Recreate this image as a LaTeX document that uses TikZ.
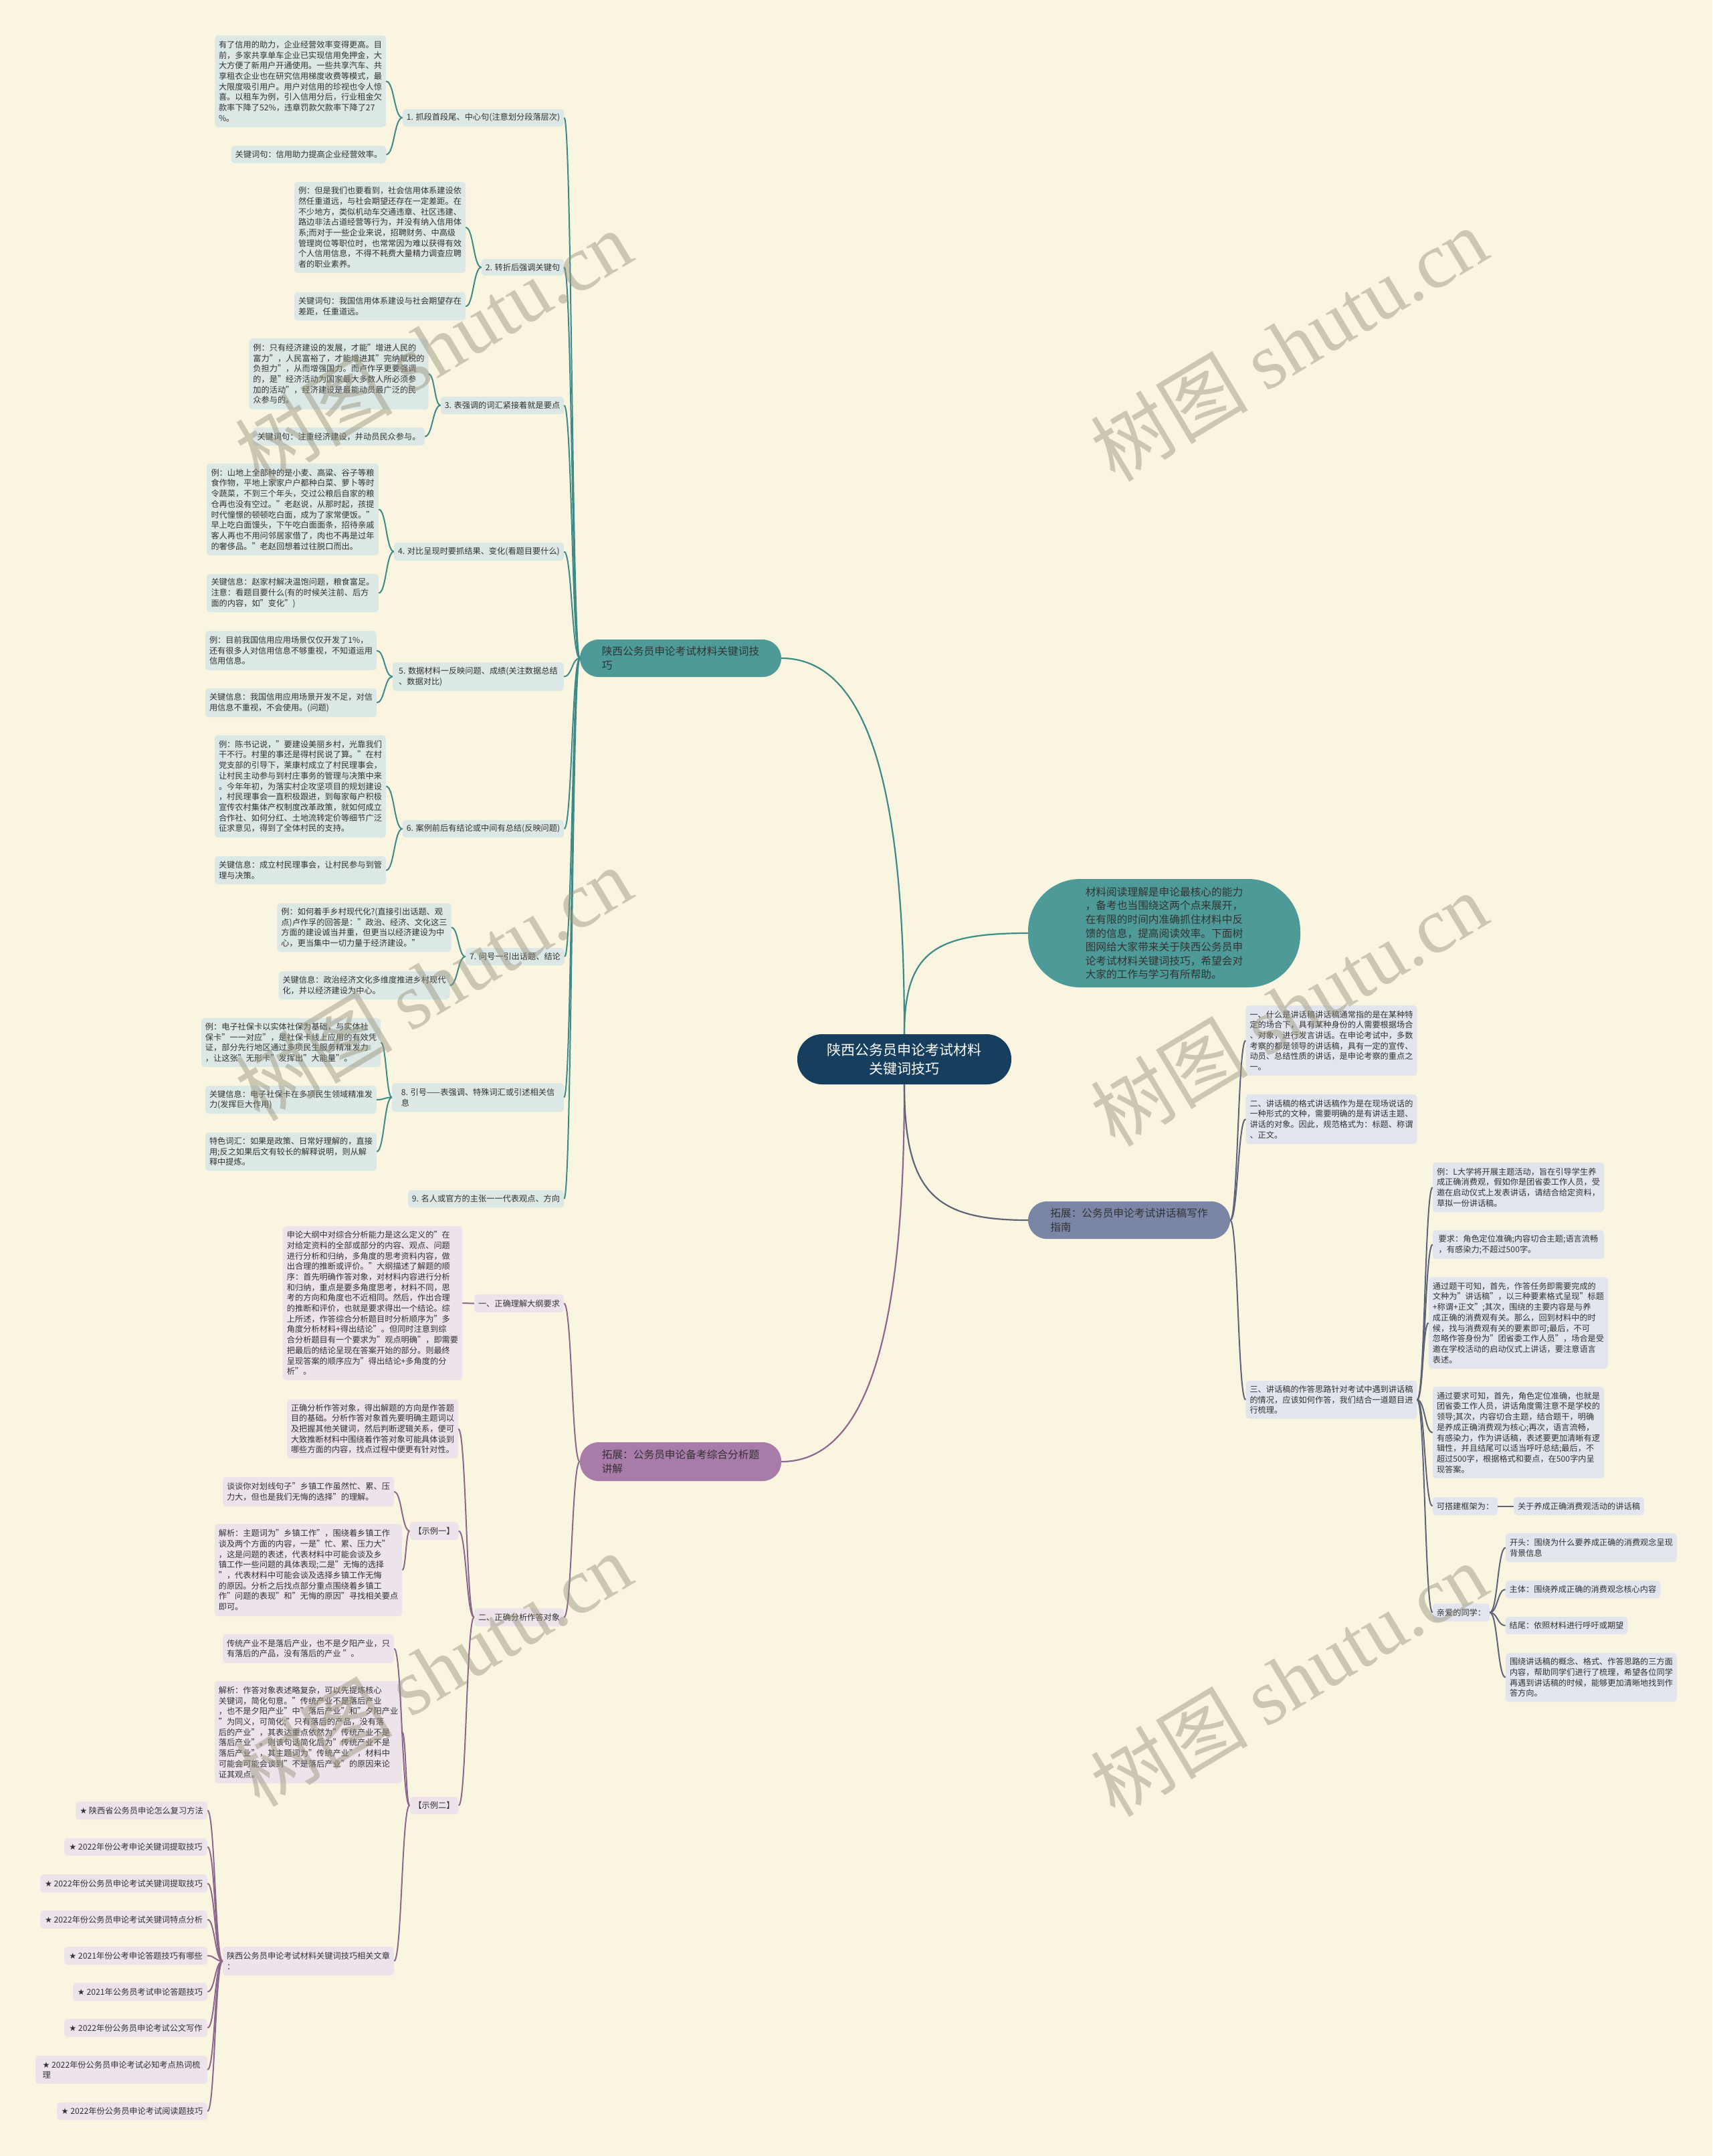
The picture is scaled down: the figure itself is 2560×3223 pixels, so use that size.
\documentclass[tikz,border=0pt]{standalone}
\usepackage{fontspec}
\setmainfont{Noto Sans CJK SC}
\newfontfamily\wmlat{Liberation Serif}
\newfontfamily\dvs{DejaVu Sans}
\usetikzlibrary{calc}
\definecolor{bgc}{RGB}{250,245,225}
\definecolor{txt}{RGB}{51,51,51}
\definecolor{cfill}{RGB}{22,62,94}
\definecolor{tfill}{RGB}{78,154,152}
\definecolor{tline}{RGB}{62,138,135}
\definecolor{tleaf}{RGB}{220,232,230}
\definecolor{pfill}{RGB}{168,123,168}
\definecolor{pline}{RGB}{140,104,140}
\definecolor{pleaf}{RGB}{236,227,235}
\definecolor{gfill}{RGB}{123,134,166}
\definecolor{gline}{RGB}{94,100,120}
\definecolor{gleaf}{RGB}{226,229,237}
\definecolor{wmc}{RGB}{150,145,120}
\newcommand\fsA{\fontsize{12.2}{15.7}\selectfont}
\newcommand\fsB{\fontsize{15.7}{20.6}\selectfont}
\newcommand\fsC{\fontsize{21}{27.5}\selectfont}
\newcommand\fsW{\fontsize{118}{118}\selectfont}
\newcommand\mbx[7]{\pgfmathsetmacro\bxw{#5-#3}\pgfmathsetmacro\bxh{#6-#4}%
  \node[#1,minimum width=\bxw pt,minimum height=\bxh pt] (#2) at ({(#3+#5)/2},{(#4+#6)/2}) {#7};}
\newcommand\mcn[3]{\draw[#1] let \p1=(#2), \p2=(#3) in (\p1) .. controls ({(\x1+\x2)/2},\y1) and ({(\x1+\x2)/2},\y2) .. (\p2);}
\tikzset{
 leafT/.style={fill=tleaf,rounded corners=5pt,inner xsep=6pt,inner ysep=0pt,align=left,font=\fsA,text=txt},
 leafP/.style={leafT,fill=pleaf},
 leafG/.style={leafT,fill=gleaf},
 brnode/.style={rounded corners=28pt,inner sep=0pt,align=left,font=\fsB,text=txt},
 lnT/.style={draw=tline,line width=2pt},
 lnP/.style={draw=pline,line width=2pt},
 lnG/.style={draw=gline,line width=2pt},
 wmk/.style={text=wmc,text opacity=0.45,font=\fsW,rotate=31,inner sep=0pt},
}
\begin{document}
\begin{tikzpicture}[x=1pt,y=-1pt]
\fill[bgc] (0,0) rectangle (2560,3223);
\useasboundingbox (0,0) rectangle (2560,3223);

% ---------- top-level ----------
\mbx{brnode,fill=cfill,rounded corners=37pt,font=\fsC,text=white,align=center}{c}{1192}{1546}{1512}{1621}{陕西公务员申论考试材料\\关键词技巧}
\mbx{brnode,fill=tfill,rounded corners=78pt}{bub}{1537}{1314}{1944}{1476}{材料阅读理解是申论最核心的能力\\，备考也当围绕这两个点来展开，\\在有限的时间内准确抓住材料中反\\馈的信息，提高阅读效率。下面树\\图网给大家带来关于陕西公务员申\\论考试材料关键词技巧，希望会对\\大家的工作与学习有所帮助。}
\mbx{brnode,fill=tfill}{tb}{867}{956}{1168}{1012}{陕西公务员申论考试材料关键词技\\巧}
\mbx{brnode,fill=pfill}{pb}{867}{2156}{1168}{2214}{拓展：公务员申论备考综合分析题\\讲解}
\mbx{brnode,fill=gfill}{gb}{1537}{1796}{1839}{1852}{拓展：公务员申论考试讲话稿写作\\指南}

% ---------- teal subtree ----------
\mbx{leafT}{lab1}{602}{163}{843}{189}{1. 抓段首段尾、中心句(注意划分段落层次)}
\mbx{leafT}{l1a}{321}{53}{577}{190}{有了信用的助力，企业经营效率变得更高。目\\前，多家共享单车企业已实现信用免押金，大\\大方便了新用户开通使用。一些共享汽车、共\\享租衣企业也在研究信用梯度收费等模式，最\\大限度吸引用户。用户对信用的珍视也令人惊\\喜。以租车为例，引入信用分后，行业租金欠\\款率下降了52\%，违章罚款欠款率下降了27\\\%。}
\mbx{leafT}{l1b}{346}{218}{577}{244}{关键词句：信用助力提高企业经营效率。}

\mbx{leafT}{lab2}{720}{387}{843}{412}{2. 转折后强调关键句}
\mbx{leafT}{l2a}{440}{272}{696}{408}{例：但是我们也要看到，社会信用体系建设依\\然任重道远，与社会期望还存在一定差距。在\\不少地方，类似机动车交通违章、社区违建、\\路边非法占道经营等行为，并没有纳入信用体\\系;而对于一些企业来说，招聘财务、中高级\\管理岗位等职位时，也常常因为难以获得有效\\个人信用信息，不得不耗费大量精力调查应聘\\者的职业素养。}
\mbx{leafT}{l2b}{440}{437}{696}{479}{关键词句：我国信用体系建设与社会期望存在\\差距，任重道远。}

\mbx{leafT}{lab3}{659}{593}{843}{619}{3. 表强调的词汇紧接着就是要点}
\mbx{leafT}{l3a}{378}{506}{635}{612}{例：只有经济建设的发展，才能"增进人民的\\富力"，人民富裕了，才能增进其"完纳赋税的\\负担力"，从而增强国力。而卢作孚更要强调\\的，是"经济活动为国家最大多数人所必须参\\加的活动"，经济建设是最能动员最广泛的民\\众参与的。}
\mbx{leafT}{l3b}{378}{639}{635}{666}{关键词句：注重经济建设，并动员民众参与。}

\mbx{leafT}{lab4}{589}{811}{843}{838}{4. 对比呈现时要抓结果、变化(看题目要什么)}
\mbx{leafT}{l4a}{309}{693}{566}{830}{例：山地上全部种的是小麦、高粱、谷子等粮\\食作物，平地上家家户户都种白菜、萝卜等时\\令蔬菜，不到三个年头，交过公粮后自家的粮\\仓再也没有空过。"老赵说，从那时起，孩提\\时代憧憬的顿顿吃白面，成为了家常便饭。"\\早上吃白面馒头，下午吃白面面条，招待亲戚\\客人再也不用问邻居家借了，肉也不再是过年\\的奢侈品。"老赵回想着过往脱口而出。}
\mbx{leafT}{l4b}{309}{858}{566}{915}{关键信息：赵家村解决温饱问题，粮食富足。\\注意：看题目要什么(有的时候关注前、后方\\面的内容，如"变化")}

\mbx{leafT}{lab5}{587}{990}{843}{1033}{5. 数据材料一反映问题、成绩(关注数据总结\\、数据对比)}
\mbx{leafT}{l5a}{307}{943}{563}{1002}{例：目前我国信用应用场景仅仅开发了1\%，\\还有很多人对信用信息不够重视，不知道运用\\信用信息。}
\mbx{leafT}{l5b}{307}{1029}{563}{1072}{关键信息：我国信用应用场景开发不足，对信\\用信息不重视，不会使用。(问题)}

\mbx{leafT}{lab6}{602}{1226}{843}{1252}{6. 案例前后有结论或中间有总结(反映问题)}
\mbx{leafT}{l6a}{321}{1099}{577}{1252}{例：陈书记说，"要建设美丽乡村，光靠我们\\干不行。村里的事还是得村民说了算。"在村\\党支部的引导下，莱康村成立了村民理事会，\\让村民主动参与到村庄事务的管理与决策中来\\。今年年初，为落实村企攻坚项目的规划建设\\，村民理事会一直积极跟进，到每家每户积极\\宣传农村集体产权制度改革政策，就如何成立\\合作社、如何分红、土地流转定价等细节广泛\\征求意见，得到了全体村民的支持。}
\mbx{leafT}{l6b}{321}{1280}{577}{1322}{关键信息：成立村民理事会，让村民参与到管\\理与决策。}

\mbx{leafT}{lab7}{697}{1417}{843}{1443}{7. 问号一引出话题、结论}
\mbx{leafT}{l7a}{417}{1350}{672}{1423}{例：如何着手乡村现代化?(直接引出话题、观\\点)卢作孚的回答是："政治、经济、文化这三\\方面的建设诚当并重，但更当以经济建设为中\\心，更当集中一切力量于经济建设。"}
\mbx{leafT}{l7b}{417}{1452}{672}{1494}{关键信息：政治经济文化多维度推进乡村现代\\化，并以经济建设为中心。}

\mbx{leafT}{lab8}{586}{1619}{843}{1662}{8. 引号——表强调、特殊词汇或引述相关信\\息}
\mbx{leafT}{l8a}{308}{1522}{562}{1595}{例：电子社保卡以实体社保为基础，与实体社\\保卡"一一对应"，是社保卡线上应用的有效凭\\证，部分先行地区通过多项民生服务精准发力\\，让这张"无形卡"发挥出"大能量"。}
\mbx{leafT}{l8b}{308}{1623}{562}{1665}{关键信息：电子社保卡在多项民生领域精准发\\力(发挥巨大作用)}
\mbx{leafT}{l8c}{308}{1693}{562}{1750}{特色词汇：如果是政策、日常好理解的，直接\\用;反之如果后文有较长的解释说明，则从解\\释中提炼。}

\mbx{leafT}{lab9}{610}{1779}{843}{1805}{9. 名人或官方的主张一一代表观点、方向}

% ---------- purple subtree ----------
\mbx{leafP}{p1}{709}{1935}{843}{1962}{一、正确理解大纲要求}
\mbx{leafP}{p1c}{429}{1833}{685}{2063}{申论大纲中对综合分析能力是这么定义的"在\\对给定资料的全部或部分的内容、观点、问题\\进行分析和归纳，多角度的思考资料内容，做\\出合理的推断或评价。"大纲描述了解题的顺\\序：首先明确作答对象，对材料内容进行分析\\和归纳，重点是要多角度思考，材料不同，思\\考的方向和角度也不近相同。然后，作出合理\\的推断和评价，也就是要求得出一个结论。综\\上所述，作答综合分析题目时分析顺序为"多\\角度分析材料+得出结论"。但同时注意到综\\合分析题目有一个要求为"观点明确"，即需要\\把最后的结论呈现在答案开始的部分。则最终\\呈现答案的顺序应为"得出结论+多角度的分\\析"。}
\mbx{leafP}{p2}{709}{2404}{843}{2431}{二、正确分析作答对象}
\mbx{leafP}{p2c}{429}{2092}{685}{2180}{正确分析作答对象，得出解题的方向是作答题\\目的基础。分析作答对象首先要明确主题词以\\及把握其他关键词，然后判断逻辑关系，便可\\大致推断材料中围绕着作答对象可能具体谈到\\哪些方面的内容，找点过程中便更有针对性。}
\mbx{leafP}{ex1}{613}{2275}{685}{2302}{【示例一】}
\mbx{leafP}{e1a}{333}{2208}{589}{2252}{谈谈你对划线句子"乡镇工作虽然忙、累、压\\力大，但也是我们无悔的选择"的理解。}
\mbx{leafP}{e1b}{333}{2278}{589}{2416}{解析：主题词为"乡镇工作"，围绕着乡镇工作\\谈及两个方面的内容，一是"忙、累、压力大"\\，这是问题的表述，代表材料中可能会谈及乡\\镇工作一些问题的具体表现;二是"无悔的选择\\"，代表材料中可能会谈及选择乡镇工作无悔\\的原因。分析之后找点部分重点围绕着乡镇工\\作"问题的表现"和"无悔的原因"寻找相关要点\\即可。}
\mbx{leafP}{ex2}{613}{2686}{685}{2712}{【示例二】}
\mbx{leafP}{e2a}{333}{2443}{589}{2486}{传统产业不是落后产业，也不是夕阳产业，只\\有落后的产品，没有落后的产业 "。}
\mbx{leafP}{e2b}{333}{2513}{589}{2666}{解析：作答对象表述略复杂，可以先提炼核心\\关键词，简化句意。"传统产业不是落后产业\\，也不是夕阳产业"中"落后产业"和"夕阳产业\\"为同义，可简化;"只有落后的产品，没有落\\后的产业"，其表达重点依然为"传统产业不是\\落后产业"。则该句话简化后为"传统产业不是\\落后产业"，其主题词为"传统产业"，材料中\\可能会可能会谈到"不是落后产业"的原因来论\\证其观点。}
\mbx{leafP}{p3}{333}{2910}{589}{2953}{陕西公务员申论考试材料关键词技巧相关文章\\：}
\mbx{leafP}{i1}{113}{2693}{310}{2720}{{\dvs ★} 陕西省公务员申论怎么复习方法}
\mbx{leafP}{i2}{96}{2748}{310}{2774}{{\dvs ★} 2022年份公考申论关键词提取技巧}
\mbx{leafP}{i3}{60}{2802}{310}{2829}{{\dvs ★} 2022年份公务员申论考试关键词提取技巧}
\mbx{leafP}{i4}{60}{2856}{310}{2883}{{\dvs ★} 2022年份公务员申论考试关键词特点分析}
\mbx{leafP}{i5}{96}{2910}{310}{2937}{{\dvs ★} 2021年份公考申论答题技巧有哪些}
\mbx{leafP}{i6}{109}{2964}{310}{2991}{{\dvs ★} 2021年公务员考试申论答题技巧}
\mbx{leafP}{i7}{96}{3018}{310}{3045}{{\dvs ★} 2022年份公务员申论考试公文写作}
\mbx{leafP}{i8}{53}{3073}{310}{3115}{{\dvs ★} 2022年份公务员申论考试必知考点热词梳\\理}
\mbx{leafP}{i9}{85}{3143}{310}{3169}{{\dvs ★} 2022年份公务员申论考试阅读题技巧}

% ---------- gray subtree ----------
\mbx{leafG}{r1}{1863}{1503}{2118}{1608}{一、什么是讲话稿讲话稿通常指的是在某种特\\定的场合下，具有某种身份的人需要根据场合\\、对象，进行发言讲话。在申论考试中，多数\\考察的都是领导的讲话稿，具有一定的宣传、\\动员、总结性质的讲话，是申论考察的重点之\\一。}
\mbx{leafG}{r2}{1863}{1636}{2118}{1710}{二、讲话稿的格式讲话稿作为是在现场说话的\\一种形式的文种，需要明确的是有讲话主题、\\讲话的对象。因此，规范格式为：标题、称谓\\、正文。}
\mbx{leafG}{r3}{1863}{2064}{2118}{2121}{三、讲话稿的作答思路针对考试中遇到讲话稿\\的情况，应该如何作答，我们结合一道题目进\\行梳理。}
\mbx{leafG}{r3a}{2142}{1738}{2398}{1812}{例：L大学将开展主题活动，旨在引导学生养\\成正确消费观，假如你是团省委工作人员，受\\邀在启动仪式上发表讲话，请结合给定资料，\\草拟一份讲话稿。}
\mbx{leafG}{r3b}{2142}{1839}{2398}{1882}{要求：角色定位准确;内容切合主题;语言流畅\\，有感染力;不超过500字。}
\mbx{leafG}{r3c}{2142}{1909}{2398}{2046}{通过题干可知，首先，作答任务即需要完成的\\文种为"讲话稿"，以三种要素格式呈现"标题\\+称谓+正文";其次，围绕的主要内容是与养\\成正确的消费观有关。那么，回到材料中的时\\候，找与消费观有关的要素即可;最后，不可\\忽略作答身份为"团省委工作人员"，场合是受\\邀在学校活动的启动仪式上讲话，要注意语言\\表述。}
\mbx{leafG}{r3d}{2142}{2073}{2398}{2210}{通过要求可知，首先，角色定位准确，也就是\\团省委工作人员，讲话角度需注意不是学校的\\领导;其次，内容切合主题，结合题干，明确\\是养成正确消费观为核心;再次，语言流畅，\\有感染力，作为讲话稿，表述要更加清晰有逻\\辑性，并且结尾可以适当呼吁总结;最后，不\\超过500字，根据格式和要点，在500字内呈\\现答案。}
\mbx{leafG}{r3e}{2142}{2238}{2239}{2265}{可搭建框架为：}
\mbx{leafG}{r3e1}{2263}{2238}{2458}{2265}{关于养成正确消费观活动的讲话稿}
\mbx{leafG}{r3f}{2142}{2397}{2227}{2424}{亲爱的同学：}
\mbx{leafG}{f1}{2251}{2292}{2507}{2335}{开头：围绕为什么要养成正确的消费观念呈现\\背景信息}
\mbx{leafG}{f2}{2251}{2363}{2482}{2389}{主体：围绕养成正确的消费观念核心内容}
\mbx{leafG}{f3}{2251}{2417}{2433}{2443}{结尾：依照材料进行呼吁或期望}
\mbx{leafG}{f4}{2251}{2471}{2507}{2544}{围绕讲话稿的概念、格式、作答思路的三方面\\内容，帮助同学们进行了梳理，希望各位同学\\再遇到讲话稿的时候，能够更加清晰地找到作\\答方向。}

% ---------- connectors from centre ----------
\draw[lnT,line width=2.2pt] let \p1=(tb.east), \p2=(c.north) in (\p1) .. controls ({\x1+0.8*(\x2-\x1)},\y1) and (\x2,{\y1+0.45*(\y2-\y1)}) .. (\p2);
\draw[lnP,line width=2.2pt] let \p1=(pb.east), \p2=(c.south) in (\p1) .. controls ({\x1+0.8*(\x2-\x1)},\y1) and (\x2,{\y1+0.45*(\y2-\y1)}) .. (\p2);
\draw[lnT,line width=2.2pt] let \p1=(c.north), \p2=(bub.west) in (\p1) .. controls (\x1,{\y1+0.83*(\y2-\y1)}) and ({\x1+0.26*(\x2-\x1)},\y2) .. (\p2);
\draw[lnG,line width=2.2pt] let \p1=(c.south), \p2=(gb.west) in (\p1) .. controls (\x1,{\y1+0.8*(\y2-\y1)}) and ({\x1+0.25*(\x2-\x1)},\y2) .. (\p2);

% ---------- teal connectors ----------
\foreach \k in {lab1,lab2,lab3,lab4,lab5,lab6,lab7,lab8,lab9}{\mcn{lnT}{tb.west}{\k.east}}
\mcn{lnT}{lab1.west}{l1a.east}\mcn{lnT}{lab1.west}{l1b.east}
\mcn{lnT}{lab2.west}{l2a.east}\mcn{lnT}{lab2.west}{l2b.east}
\mcn{lnT}{lab3.west}{l3a.east}\mcn{lnT}{lab3.west}{l3b.east}
\mcn{lnT}{lab4.west}{l4a.east}\mcn{lnT}{lab4.west}{l4b.east}
\mcn{lnT}{lab5.west}{l5a.east}\mcn{lnT}{lab5.west}{l5b.east}
\mcn{lnT}{lab6.west}{l6a.east}\mcn{lnT}{lab6.west}{l6b.east}
\mcn{lnT}{lab7.west}{l7a.east}\mcn{lnT}{lab7.west}{l7b.east}
\mcn{lnT}{lab8.west}{l8a.east}\mcn{lnT}{lab8.west}{l8b.east}\mcn{lnT}{lab8.west}{l8c.east}

% ---------- purple connectors ----------
\mcn{lnP}{pb.west}{p1.east}\mcn{lnP}{pb.west}{p2.east}
\mcn{lnP}{p1.west}{p1c.east}
\mcn{lnP}{p2.west}{p2c.east}\mcn{lnP}{p2.west}{ex1.east}\mcn{lnP}{p2.west}{ex2.east}
\mcn{lnP}{ex1.west}{e1a.east}\mcn{lnP}{ex1.west}{e1b.east}
\mcn{lnP}{ex2.west}{e2a.east}\mcn{lnP}{ex2.west}{e2b.east}\mcn{lnP}{ex2.west}{p3.east}
\foreach \k in {i1,i2,i3,i4,i5,i6,i7,i8,i9}{\mcn{lnP}{p3.west}{\k.east}}

% ---------- gray connectors ----------
\mcn{lnG}{gb.east}{r1.west}\mcn{lnG}{gb.east}{r2.west}\mcn{lnG}{gb.east}{r3.west}
\foreach \k in {r3a,r3b,r3c,r3d,r3e,r3f}{\mcn{lnG}{r3.east}{\k.west}}
\mcn{lnG}{r3e.east}{r3e1.west}
\foreach \k in {f1,f2,f3,f4}{\mcn{lnG}{r3f.east}{\k.west}}

% ---------- watermarks ----------
\node[wmk] (wm1) at (648,518) {树图 {\wmlat shutu.cn}};
\node[wmk] (wm2) at (1927,514) {树图 {\wmlat shutu.cn}};
\node[wmk] (wm3) at (648,1470) {树图 {\wmlat shutu.cn}};
\node[wmk] (wm4) at (1927,1508) {树图 {\wmlat shutu.cn}};
\node[wmk] (wm5) at (648,2495) {树图 {\wmlat shutu.cn}};
\node[wmk] (wm6) at (1927,2510) {树图 {\wmlat shutu.cn}};
\end{tikzpicture}
\end{document}
